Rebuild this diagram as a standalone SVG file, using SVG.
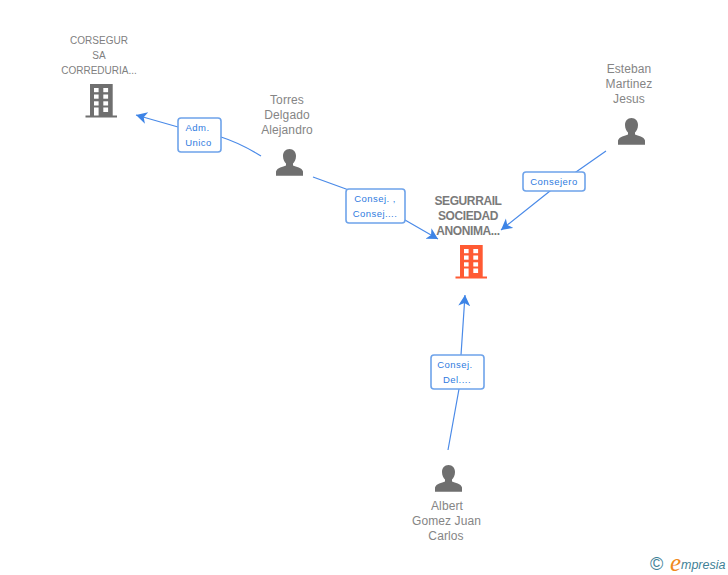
<svg xmlns="http://www.w3.org/2000/svg" width="728" height="575" viewBox="0 0 728 575">
<style>
text{font-family:"Liberation Sans",Arial,sans-serif}
.n{font-size:12px;fill:#858585;text-anchor:middle;letter-spacing:.1px}
.s{font-size:10px;fill:#808080;text-anchor:middle}
.m{font-size:12px;font-weight:bold;fill:#7a7a7a;text-anchor:middle;letter-spacing:-.4px}
.l{font-size:9.5px;fill:#2f7be0;text-anchor:middle;letter-spacing:.45px}
.c{fill:none;stroke:#4a8ae8;stroke-width:1.2}
.b{fill:#fff;stroke:#6ea3ea;stroke-width:1.6}
.w{fill:#fff}
</style>
<defs>
<marker id="a" markerUnits="userSpaceOnUse" markerWidth="14" markerHeight="14" refX="11" refY="6" orient="auto">
<path d="M0 0L11 6L0 12L3 6Z" fill="#3d84e6"/>
</marker>
<g id="bld">
<path d="M4.5 0H27.2V31.5H31.5V33.5H0V31.5H4.5Z"/>
<g class="w">
<rect x="8.5" y="4" width="4.6" height="4.2"/><rect x="17.8" y="4" width="4.8" height="4.2"/>
<rect x="8.5" y="10.5" width="4.6" height="4.2"/><rect x="17.8" y="10.5" width="4.8" height="4.2"/>
<rect x="8.5" y="17.3" width="4.6" height="4.2"/><rect x="17.8" y="17.3" width="4.8" height="4.2"/>
<rect x="8.5" y="23.5" width="4.6" height="8"/><rect x="17.8" y="23.5" width="4.8" height="4.5"/>
</g>
</g>
<path id="psn" fill="#6f6f6f" d="M13.5 0C17.5 0 20 3 20 7C20 10.5 18.5 13 17 14.5V16.5C20 18 26 18.5 27 22.5V26.7H0V22.5C1 18.5 7 18 10 16.5V14.5C8.5 13 7 10.5 7 7C7 3 9.5 0 13.5 0Z"/>
</defs>
<rect width="728" height="575" fill="#fff"/>
<g id="connectors">
<path class="c" marker-end="url(#a)" d="M261 156Q240 143 221 137L178 127L136 115"/>
<path class="c" marker-end="url(#a)" d="M313 177L346 189L405 220L438 239"/>
<path class="c" marker-end="url(#a)" d="M606 151L576 172L550 191L501 230"/>
<path class="c" marker-end="url(#a)" d="M448 450L459 389L461 355L465 295"/>
</g>
<g id="label-adm">
<rect class="b" x="178" y="118" width="43" height="34" rx="3"/>
<text class="l" x="197.500" y="131">Adm.</text><text class="l" x="198.500" y="146">Unico</text>
</g>
<g id="label-consej1">
<rect class="b" x="346" y="189" width="59" height="34" rx="3"/>
<text class="l" x="375" y="202">Consej. ,</text><text class="l" x="375" y="217">Consej....</text>
</g>
<g id="label-consejero">
<rect class="b" x="523" y="172" width="62" height="19" rx="3"/>
<text class="l" x="554" y="185">Consejero</text>
</g>
<g id="label-consej2">
<rect class="b" x="431" y="355" width="53" height="34" rx="3"/>
<text class="l" x="455" y="368">Consej.</text><text class="l" x="457" y="383">Del....</text>
</g>
<g id="corsegur">
<use href="#bld" x="85.5" y="84" fill="#6f6f6f"/>
<text class="s" x="99" y="44">CORSEGUR</text>
<text class="s" x="99" y="59">SA</text>
<text class="s" x="99" y="74">CORREDURIA...</text>
</g>
<g id="torres">
<use href="#psn" x="276" y="149"/>
<text class="n" x="287" y="104">Torres</text>
<text class="n" x="287" y="119">Delgado</text>
<text class="n" x="287" y="134">Alejandro</text>
</g>
<g id="esteban">
<use href="#psn" x="618" y="118"/>
<text class="n" x="629" y="73">Esteban</text>
<text class="n" x="629" y="88">Martinez</text>
<text class="n" x="629" y="103">Jesus</text>
</g>
<g id="segurrail">
<use href="#bld" x="455.5" y="245" fill="#ff5a33"/>
<text class="m" x="468" y="205">SEGURRAIL</text>
<text class="m" x="468" y="220">SOCIEDAD</text>
<text class="m" x="468" y="235">ANONIMA...</text>
</g>
<g id="albert">
<use href="#psn" x="435" y="465"/>
<text class="n" x="447" y="510">Albert</text>
<text class="n" x="446.500" y="525">Gomez Juan</text>
<text class="n" x="446" y="540">Carlos</text>
</g>
<g id="logo">
<text x="650" y="570" style="font-size:18px" fill="#3f8197">©</text>
<text x="670" y="571" style="font-family:'Liberation Serif',serif;font-size:25px;font-style:italic" fill="#f08a1d">e</text>
<text x="681" y="569" style="font-size:12.500px;font-style:italic" fill="#3f8197">mpresia</text>
</g>
</svg>
